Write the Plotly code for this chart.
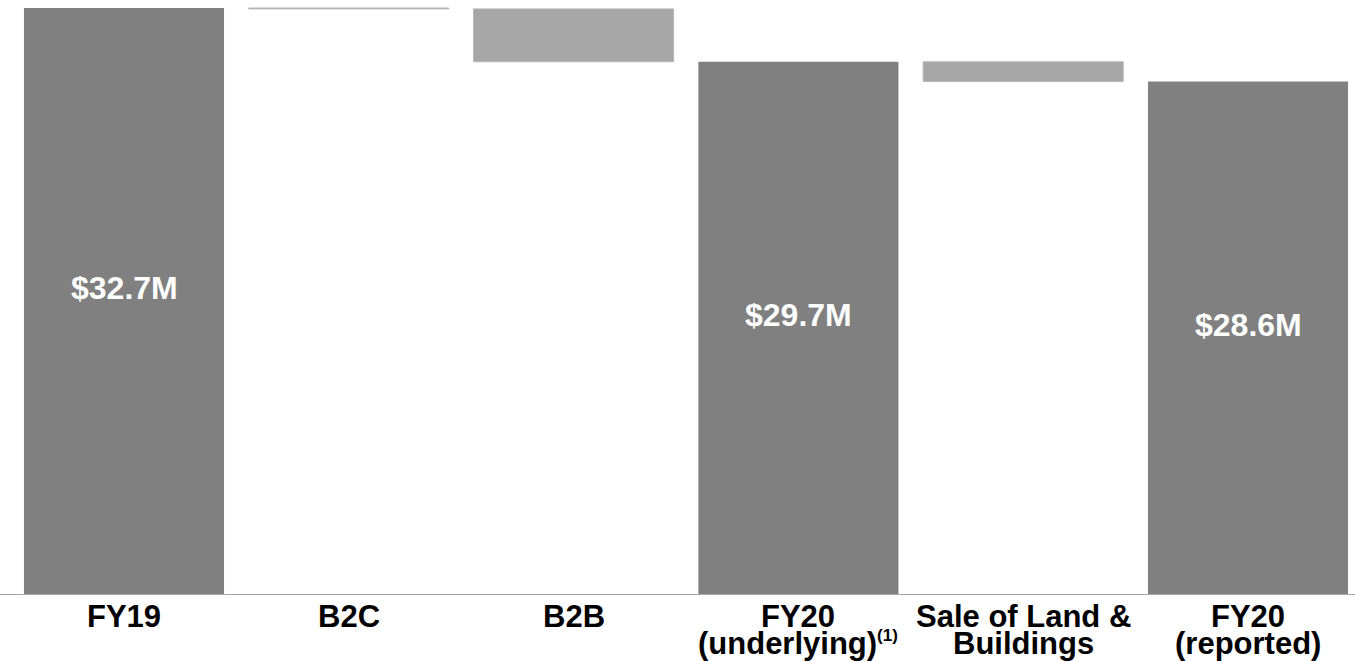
import plotly.graph_objects as go

# Revenue bridge FY19 -> FY20 ($M)
categories = ["FY19", "B2C", "B2B", "FY20 (underlying)", "Sale of Land & Buildings", "FY20 (reported)"]
label_top = ["FY19", "B2C", "B2B", "FY20", "Sale of Land &", "FY20"]
label_bottom = ["", "", "", "(underlying)<sup><span style=\"font-size:17px\">(1)</span></sup>", "Buildings", "(reported)"]
measures = ["absolute", "relative", "relative", "total", "relative", "total"]
changes = [32.7, -0.05, -2.95, 0, -1.1, 0]

TOTAL_GREY = "#808080"
STEP_GREY = "#a6a6a6"
FONT = "Liberation Sans, Arial, sans-serif"

# running totals for the value labels on the total bars
running = []
acc = 0.0
for m, v in zip(measures, changes):
    if m == "absolute":
        acc = v
    elif m == "relative":
        acc += v
    running.append(round(acc, 2))

fig = go.Figure(go.Waterfall(
    x=categories,
    y=changes,
    measure=measures,
    connector=dict(visible=False),
    totals=dict(marker=dict(color=TOTAL_GREY, line=dict(width=0))),
    decreasing=dict(marker=dict(color=STEP_GREY, line=dict(color="#b8b8b8", width=1))),
    increasing=dict(marker=dict(color=STEP_GREY, line=dict(color="#b8b8b8", width=1))),
    hoverinfo="skip",
    textinfo="none",
))

annotations = []
for i, cat in enumerate(categories):
    if measures[i] in ("absolute", "total"):
        annotations.append(dict(
            x=cat, y=running[i] / 2, xref="x", yref="y",
            text=f"${running[i]:.1f}M", showarrow=False,
            yshift=13,
            font=dict(family=FONT, size=32, color="white", weight="bold"),
        ))
    annotations.append(dict(
        x=cat, y=0, xref="x", yref="paper", yanchor="middle",
        text=label_top[i], showarrow=False, yshift=-22,
        font=dict(family=FONT, size=31, color="black", weight="bold"),
    ))
    if label_bottom[i]:
        annotations.append(dict(
            x=cat, y=0, xref="x", yref="paper", yanchor="middle",
            text=label_bottom[i], showarrow=False, yshift=-49,
            font=dict(family=FONT, size=31, color="black", weight="bold"),
        ))

fig.update_layout(
    width=1355, height=661,
    margin=dict(l=0, r=0, t=0, b=67),
    paper_bgcolor="white", plot_bgcolor="white",
    showlegend=False,
    waterfallgap=0.11,
    xaxis=dict(
        type="category", range=[-0.5516, 5.476],
        showticklabels=False, showgrid=False, zeroline=False,
        showline=True, linecolor="#a6a6a6", linewidth=1, ticks="",
    ),
    yaxis=dict(
        range=[0, 33.146], visible=False, showgrid=False, zeroline=False,
    ),
    annotations=annotations,
)

fig.write_html("out.html")
